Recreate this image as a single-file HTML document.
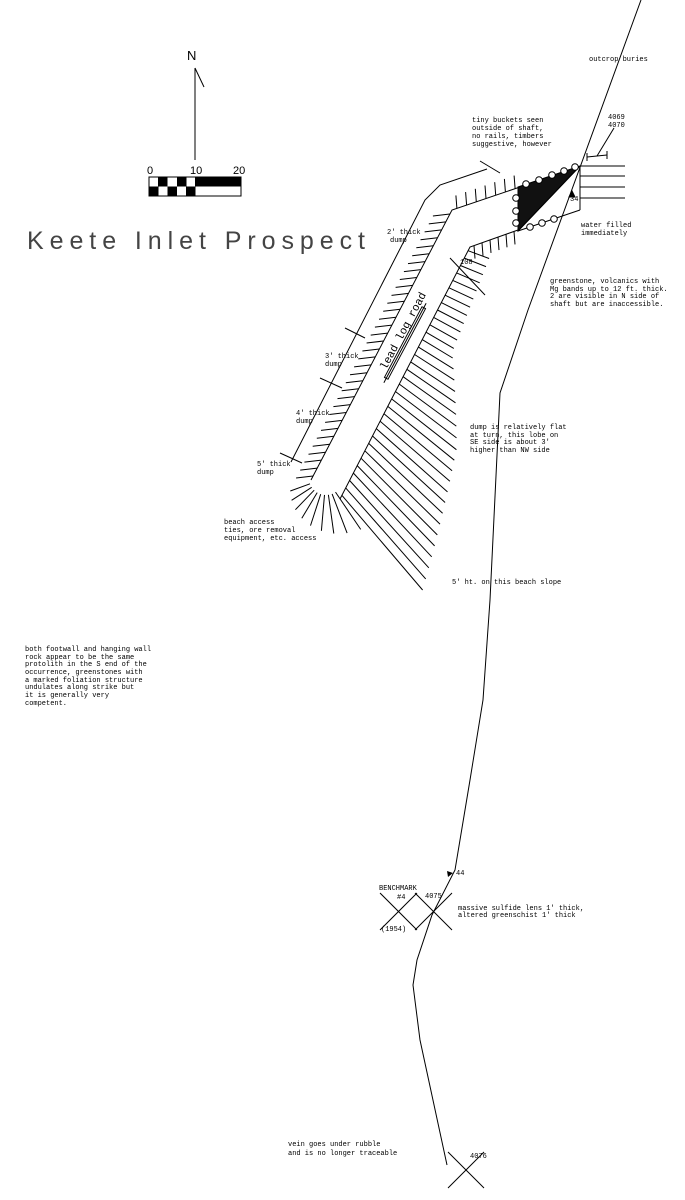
<!DOCTYPE html>
<html><head><meta charset="utf-8"><style>
html,body{margin:0;padding:0;background:#fff;}
svg{display:block}
text{font-family:"Liberation Mono",monospace;font-size:7px;fill:#000}
</style></head><body>
<svg id="s" width="685" height="1200" viewBox="0 0 685 1200" xmlns="http://www.w3.org/2000/svg" stroke="#000" stroke-width="1" fill="none">
<text x="187" y="60" style="font-family:'Liberation Sans',sans-serif;font-size:13px" stroke="none">N</text>
<line x1="195" y1="68" x2="195" y2="160"/>
<line x1="195" y1="68" x2="204" y2="87"/>
<text x="147" y="174" stroke="none" style="font-family:'Liberation Sans',sans-serif;font-size:11px">0</text>
<text x="190" y="174" stroke="none" style="font-family:'Liberation Sans',sans-serif;font-size:11px">10</text>
<text x="233" y="174" stroke="none" style="font-family:'Liberation Sans',sans-serif;font-size:11px">20</text>
<rect x="149" y="177" width="92" height="19"/>
<g fill="#000" stroke="none">
<rect x="158" y="177" width="9.5" height="9.5"/><rect x="177" y="177" width="9.5" height="9.5"/><rect x="195" y="177" width="46" height="9.5"/>
<rect x="149" y="186.5" width="9.5" height="9.5"/><rect x="167.5" y="186.5" width="9.5" height="9.5"/><rect x="186" y="186.5" width="9.5" height="9.5"/>
</g>
<text x="27" y="249" textLength="338" stroke="none" style="font-family:'Liberation Sans',sans-serif;font-size:25px;fill:#444;font-weight:300">Keete Inlet Prospect</text>

<polyline points="641,0 528,310 500,393 490,600 483,700 470,780 455,870 432,915 417,960 413,985 420,1040 447,1165"/>
<line x1="587" y1="157" x2="607" y2="155"/><line x1="587" y1="153" x2="587" y2="161"/><line x1="607" y1="151" x2="607" y2="159"/>
<line x1="597" y1="156" x2="614" y2="128"/>
<polygon points="518,187 580,166 518,231" fill="#111"/>
<line x1="580" y1="166" x2="518" y2="231"/>
<line x1="580" y1="166" x2="580" y2="210"/>
<line x1="518" y1="231" x2="580" y2="210"/>
<g>
<line x1="580" y1="166" x2="625" y2="166"/><line x1="580" y1="176" x2="625" y2="176"/><line x1="580" y1="187" x2="625" y2="187"/><line x1="580" y1="198" x2="625" y2="198"/>
</g>
<g fill="#fff">
<circle cx="526" cy="184" r="3.3"/><circle cx="539" cy="180" r="3.3"/><circle cx="552" cy="175" r="3.3"/><circle cx="564" cy="171" r="3.3"/><circle cx="575" cy="167" r="3.3"/>
<circle cx="516" cy="198" r="3.3"/><circle cx="516" cy="211" r="3.3"/><circle cx="516" cy="223" r="3.3"/>
<circle cx="530" cy="227" r="3.3"/><circle cx="542" cy="223" r="3.3"/><circle cx="554" cy="219" r="3.3"/>
</g>
<polygon points="572,191 575,197 569,197" fill="#000"/>
<polyline points="487,169 440,185 425,200 291,462"/>
<line x1="480" y1="161" x2="500" y2="173"/>
<line x1="345" y1="328" x2="365" y2="338"/>
<line x1="320" y1="378" x2="342" y2="388"/>
<line x1="280" y1="453" x2="302" y2="463"/>
<polyline points="520,187 452,210 311,480"/>
<polyline points="518,230 470,247 340,499"/>
<line x1="450" y1="258" x2="485" y2="295"/>
<g transform="rotate(-62 405 343)">
<rect x="365" y="341" width="80" height="4"/>
<text x="372" y="339" stroke="none" style="font-size:11px" fill="#000">lead log road</text>
<line x1="360" y1="343" x2="450" y2="343"/>
</g>
<g id="h"></g>

<g stroke="none">
<text x="589" y="61">outcrop buries</text>
<text x="608" y="119">4069</text><text x="608" y="127">4070</text>
<text x="472" y="122">tiny buckets seen</text><text x="472" y="130">outside of shaft,</text><text x="472" y="138">no rails, timbers</text><text x="472" y="146">suggestive, however</text>
<text x="570" y="201">34</text>
<text x="581" y="227">water filled</text><text x="581" y="235">immediately</text>
<text x="550" y="283">greenstone, volcanics with</text><text x="550" y="291">Mg bands up to 12 ft. thick.</text><text x="550" y="298">2 are visible in N side of</text><text x="550" y="306">shaft but are inaccessible.</text>
<text x="387" y="234">2' thick</text><text x="390" y="242">dump</text>
<text x="460" y="264">108</text>
<text x="325" y="358">3' thick</text><text x="325" y="366">dump</text>
<text x="296" y="415">4' thick</text><text x="296" y="423">dump</text>
<text x="257" y="466">5' thick</text><text x="257" y="474">dump</text>
<text x="470" y="429">dump is relatively flat</text><text x="470" y="437">at turn, this lobe on</text><text x="470" y="444">SE side is about 3'</text><text x="470" y="452">higher than NW side</text>
<text x="224" y="524">beach access</text><text x="224" y="532">ties, ore removal</text><text x="224" y="540">equipment, etc. access</text>
<text x="452" y="584">5' ht. on this beach slope</text>
<text x="25" y="651">both footwall and hanging wall</text>
<text x="25" y="659">rock appear to be the same</text>
<text x="25" y="666">protolith in the S end of the</text>
<text x="25" y="674">occurrence, greenstones with</text>
<text x="25" y="682">a marked foliation structure</text>
<text x="25" y="689">undulates along strike but</text>
<text x="25" y="697">it is generally very</text>
<text x="25" y="705">competent.</text>
<text x="456" y="875">44</text>
<text x="379" y="890">BENCHMARK</text><text x="397" y="899">#4</text><text x="425" y="898">4075</text>
<text x="381" y="931">(1954)</text>
<text x="458" y="910">massive sulfide lens 1' thick,</text><text x="458" y="917">altered greenschist 1' thick</text>
<text x="288" y="1146">vein goes under rubble</text><text x="288" y="1155">and is no longer traceable</text>
<text x="470" y="1158">4076</text>
</g>
<polygon points="447,871 453,873 448,877" fill="#000" stroke="none"/>
<line x1="380" y1="893" x2="417" y2="930"/><line x1="380" y1="930" x2="417" y2="893"/>
<line x1="415" y1="893" x2="452" y2="930"/><line x1="415" y1="930" x2="452" y2="893"/>
<line x1="448" y1="1152" x2="484" y2="1188"/><line x1="448" y1="1188" x2="484" y2="1152"/>
</svg>
<script>
var g=document.getElementById('h'),o='';
function L(a,b,c,d){o+='<line x1="'+a.toFixed(1)+'" y1="'+b.toFixed(1)+'" x2="'+c.toFixed(1)+'" y2="'+d.toFixed(1)+'"/>';}
for(var i=0;i<7;i++){var t=(i+0.5)/7,x=520-68*t,y=187+23*t;L(x,y,x-1,y-13);}
for(var i=0;i<34;i++){var t=(i+0.5)/34,x=452-141*t,y=210+270*t;L(x,y,x-17,y+2);}
for(var i=0;i<6;i++){var t=(i+0.5)/6,x=518-48*t,y=230+17*t;L(x,y,x+1,y+13);}
for(var i=0;i<34;i++){var t=(i+0.5)/34,x=470-130*t,y=247+252*t;
 var len=t<0.35?22+t*30:(t<0.6?32+(t-0.35)*200:82+(t-0.6)*110);
 var ang=(20+t*30)*Math.PI/180;
 L(x,y,x+len*Math.cos(ang),y+len*Math.sin(ang));}
var cx=326,cy=478;
for(var i=0;i<9;i++){var a=(160-i*13)*Math.PI/180;var r1=17,r2=38+i*3;
 L(cx+r1*Math.cos(a),cy+r1*Math.sin(a),cx+r2*Math.cos(a),cy+r2*Math.sin(a));}
g.innerHTML=o;
</script>
</body></html>
